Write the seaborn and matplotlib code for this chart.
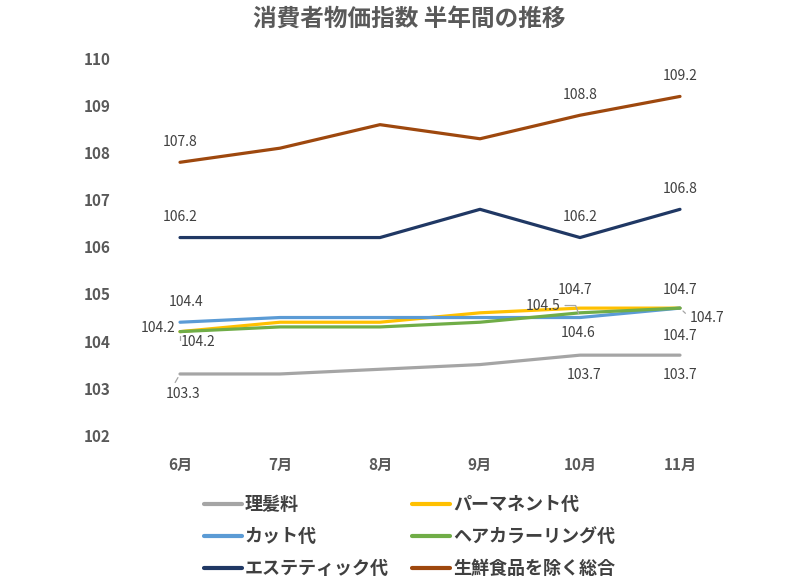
#!/usr/bin/env python3
"""
消費者物価指数 半年間の推移 (line chart, seaborn).
"""

import pandas as pd
import matplotlib
matplotlib.use("Agg")
import matplotlib.pyplot as plt
import seaborn as sns

months = ["6月", "7月", "8月", "9月", "10月", "11月"]

rihatsu = [103.3, 103.3, 103.4, 103.5, 103.7, 103.7]
perm = [104.2, 104.4, 104.4, 104.6, 104.7, 104.7]
cut = [104.4, 104.5, 104.5, 104.5, 104.5, 104.7]
color_ring = [104.2, 104.3, 104.3, 104.4, 104.6, 104.7]
esthe = [106.2, 106.2, 106.2, 106.8, 106.2, 106.8]
sogo = [107.8, 108.1, 108.6, 108.3, 108.8, 109.2]

series_names = ["理髪料", "パーマネント代", "カット代", "ヘアカラーリング代",
                "エステティック代", "生鮮食品を除く総合"]
series_values = [rihatsu, perm, cut, color_ring, esthe, sogo]
colors = ["#A5A5A5", "#FFC000", "#5B9BD5", "#70AD47", "#203864", "#9E480E"]

rows = []
for name, vals in zip(series_names, series_values):
    for m, v in zip(months, vals):
        rows.append({"月": m, "指数": v, "系列": name})
df = pd.DataFrame(rows)

sns.set_theme(style="white")
plt.rcParams['font.family'] = ['Noto Sans CJK JP', 'DejaVu Sans']

fig = plt.figure(figsize=(8, 5.88), dpi=100)
ax = fig.add_axes([0.1625, 0.26, 0.75, 0.64])

sns.lineplot(data=df, x="月", y="指数", hue="系列", hue_order=series_names,
             palette=colors, linewidth=2.3, ax=ax, legend=True, sort=False)

ax.set_xlim(-0.5, 5.5)
ax.set_ylim(102, 110)
ax.set_yticks(range(102, 111))
ax.set_xlabel("")
ax.set_ylabel("")
for s in ax.spines.values():
    s.set_visible(False)
ax.tick_params(axis="both", length=0, labelsize=11, labelcolor="#595959")
ax.tick_params(axis="y", pad=14)
ax.tick_params(axis="x", pad=16)
for lab in ax.get_xticklabels() + ax.get_yticklabels():
    lab.set_fontweight("bold")

# data labels: (series index, month index, dx px, dy px, leader style)
label_specs = [
    (5, 0, 0, 20, None), (5, 4, 0, 20, None), (5, 5, 0, 20, None),
    (4, 0, 0, 21, None), (4, 4, 0, 21, None), (4, 5, 0, 20, None),
    (2, 0, 6, 20, None), (1, 4, -5, 18, None),
    (1, 0, -22, 4, None), (3, 4, -2, -20, None),
    (1, 5, 0, 18, None), (3, 5, 0, -28, None),
    (0, 4, 4, -20, None), (0, 5, 0, -20, None),
    (3, 0, 18, -10, "elbow"), (2, 4, -37, 12, "hook"),
    (2, 5, 27, -10, "diag"), (0, 0, 3, -20, "short"),
]
leader_props = {
    "elbow": dict(relpos=(0.0, 0.5), connectionstyle="angle,angleA=0,angleB=90,rad=0"),
    "hook": dict(relpos=(1.0, 0.5), connectionstyle="angle,angleA=0,angleB=110,rad=0"),
    "diag": dict(relpos=(0.0, 0.55)),
    "short": dict(relpos=(0.2, 1.0)),
}
px = 72.0 / fig.dpi
for si, mi, dx, dy, leader in label_specs:
    val = series_values[si][mi]
    kw = {}
    if leader:
        kw["arrowprops"] = dict(arrowstyle="-", color="#A5A5A5", lw=0.9,
                                shrinkA=1, shrinkB=3, **leader_props[leader])
    ax.annotate(f"{val:.1f}", xy=(mi, val), xytext=(dx * px, dy * px),
                textcoords="offset points", ha="center", va="center",
                fontsize=10, color="#404040", **kw)

fig.suptitle("消費者物価指数 半年間の推移", x=0.512, y=0.968, va="center",
             fontsize=17, fontweight="bold", color="#595959")

handles, labels = ax.get_legend_handles_labels()
ax.get_legend().remove()
hmap = dict(zip(labels, handles))
order = ["理髪料", "カット代", "エステティック代",
         "パーマネント代", "ヘアカラーリング代", "生鮮食品を除く総合"]
for h in hmap.values():
    h.set_linewidth(3)
leg = fig.legend([hmap[o] for o in order], order, ncol=2, frameon=False,
                 loc="center", bbox_to_anchor=(0.512, 0.087),
                 prop={"weight": "bold", "size": 13},
                 handlelength=2.1, handletextpad=0.15, labelspacing=0.72,
                 columnspacing=1.3)
for t in leg.get_texts():
    t.set_color("#404040")

fig.savefig("out.png", dpi=100)
plt.close(fig)
